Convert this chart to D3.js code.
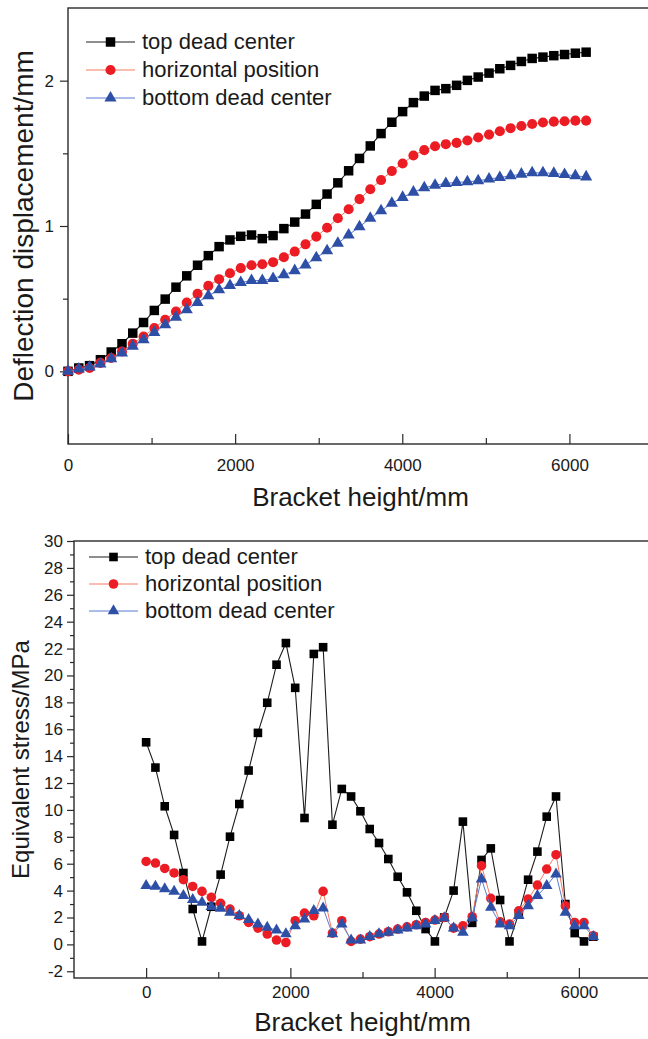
<!DOCTYPE html>
<html>
<head>
<meta charset="utf-8">
<script src="https://cdn.jsdelivr.net/npm/d3@7"></script>
<style>
  html, body { margin: 0; padding: 0; background: #fff; }
  svg { display: block; }
</style>
</head>
<body>
<svg id="fig" width="648" height="1039"></svg>
<script>
// Bracket heights (mm) at which both quantities were evaluated
const heights = [0, 129, 258, 388, 517, 646, 775, 904, 1033, 1163, 1292, 1421, 1550, 1679, 1808, 1938,
  2067, 2196, 2325, 2454, 2583, 2713, 2842, 2971, 3100, 3229, 3358, 3488, 3617, 3746, 3875, 4004,
  4133, 4263, 4392, 4521, 4650, 4779, 4908, 5038, 5167, 5296, 5425, 5554, 5683, 5813, 5942, 6071, 6200];

const seriesNames = ["top dead center", "horizontal position", "bottom dead center"];

// Deflection displacement (mm)
const deflTop = [0.0, 0.023, 0.039, 0.08, 0.133, 0.19, 0.263, 0.336, 0.419, 0.497, 0.579, 0.657, 0.73, 0.796,
  0.858, 0.904, 0.929, 0.938, 0.913, 0.934, 0.982, 1.027, 1.082, 1.149, 1.22, 1.297, 1.38, 1.465,
  1.551, 1.636, 1.714, 1.787, 1.849, 1.894, 1.933, 1.945, 1.968, 2.002, 2.025, 2.052, 2.082, 2.105,
  2.132, 2.153, 2.162, 2.172, 2.18, 2.189, 2.196];
const deflHor = [0.0, 0.012, 0.023, 0.058, 0.092, 0.137, 0.19, 0.24, 0.298, 0.355, 0.412, 0.474, 0.533, 0.588,
  0.634, 0.675, 0.71, 0.73, 0.737, 0.751, 0.785, 0.824, 0.874, 0.927, 0.988, 1.053, 1.115, 1.185,
  1.253, 1.316, 1.378, 1.43, 1.485, 1.522, 1.549, 1.563, 1.572, 1.588, 1.609, 1.629, 1.652, 1.673,
  1.688, 1.702, 1.712, 1.718, 1.721, 1.725, 1.725];
const deflBot = [0.0, 0.016, 0.03, 0.051, 0.087, 0.126, 0.172, 0.218, 0.268, 0.321, 0.373, 0.423, 0.474, 0.52,
  0.561, 0.59, 0.611, 0.625, 0.625, 0.638, 0.664, 0.693, 0.732, 0.782, 0.83, 0.881, 0.938, 0.995,
  1.053, 1.105, 1.156, 1.197, 1.233, 1.263, 1.281, 1.293, 1.3, 1.304, 1.311, 1.323, 1.334, 1.345,
  1.357, 1.366, 1.366, 1.362, 1.355, 1.345, 1.338];

// Equivalent stress (MPa)
const stressTop = [15.03, 13.15, 10.27, 8.14, 5.31, 2.63, 0.22, 2.8, 5.19, 8.01,
  10.44, 12.93, 15.73, 17.97, 20.8, 22.41, 19.08, 9.4, 21.6, 22.1,
  8.9, 11.56, 11.0, 9.9, 8.58, 7.54, 6.35, 5.03, 3.87, 2.5,
  1.14, 0.22, 2.0, 4.0, 9.13, 1.6, 6.28, 7.14, 3.3, 0.22,
  2.3, 4.81, 6.9, 9.5, 11.0, 3.0, 0.84, 0.22, 0.57];
const stressHor = [6.17, 6.05, 5.65, 5.31, 4.81, 4.31, 3.94, 3.5, 3.05, 2.63,
  2.13, 1.63, 1.21, 0.77, 0.32, 0.14, 1.76, 2.33, 2.13, 3.94,
  0.84, 1.76, 0.22, 0.39, 0.57, 0.77, 0.94, 1.14, 1.31, 1.46,
  1.63, 1.81, 2.0, 1.21, 1.38, 2.06, 5.85, 3.42, 1.68, 1.51,
  2.5, 3.37, 4.41, 5.6, 6.67, 2.87, 1.63, 1.63, 0.64];
const stressBot = [4.36, 4.31, 4.12, 3.94, 3.62, 3.32, 3.12, 2.8, 2.67, 2.38,
  2.13, 1.83, 1.51, 1.26, 1.06, 0.77, 1.38, 1.88, 2.5, 2.7,
  0.77, 1.51, 0.32, 0.32, 0.57, 0.77, 0.89, 1.06, 1.21, 1.38,
  1.51, 1.76, 1.96, 1.21, 0.89, 1.96, 4.86, 2.75, 1.51, 1.38,
  2.13, 2.87, 3.62, 4.36, 5.23, 2.38, 1.38, 1.38, 0.57];

// Tick values
const deflXTicks = [0, 2000, 4000, 6000];
const deflXMinor = [1000, 3000, 5000];
const deflYTicks = [0, 1, 2];
const deflYMinor = [0.5, 1.5];
const stressXTicks = [0, 2000, 4000, 6000];
const stressXMinor = [1000, 3000, 5000];
const stressYTicks = [-2, 0, 2, 4, 6, 8, 10, 12, 14, 16, 18, 20, 22, 24, 26, 28, 30];
const stressYMinor = [-1, 1, 3, 5, 7, 9, 11, 13, 15, 17, 19, 21, 23, 25, 27, 29];

const FONT = '"Liberation Sans", Arial, Helvetica, sans-serif';
const AXIS = "#2a2a2a";
// plain hyphen-minus for negative tick labels
const plainNum = d => String(d);

const markerStyles = [
  { shape: d3.symbolSquare,   fill: "#000000", line: "#1e1e1e", lw: 1.1 },
  { shape: d3.symbolCircle,   fill: "#ec1c24", line: "#f47a5e", lw: 1.0 },
  { shape: d3.symbolTriangle, fill: "#2d4fa6", line: "#5a7ad4", lw: 1.0 }
];

const svg = d3.select("#fig");
svg.append("rect").attr("width", 648).attr("height", 1039).attr("fill", "#fff");

function styleAxis(sel, fontSize) {
  sel.attr("font-family", FONT).attr("font-size", fontSize);
  sel.select(".domain").remove();
  sel.selectAll(".tick line").attr("stroke", AXIS).attr("stroke-width", 1.2);
  sel.selectAll(".tick text").attr("fill", "#1a1a1a");
}

function panel(o) {
  const g = svg.append("g");
  const x = d3.scaleLinear().domain(o.xDomain).range([o.l, o.r]);
  const y = d3.scaleLinear().domain(o.yDomain).range([o.b, o.t]);

  // x axis: ticks point into the plot
  const xa = g.append("g").attr("transform", `translate(0,${o.b})`)
    .call(d3.axisBottom(x).tickValues(o.xTicks).tickSize(-o.xMajor)
      .tickPadding(o.xPad).tickFormat(plainNum));
  styleAxis(xa, 17);
  const xm = g.append("g").attr("transform", `translate(0,${o.b})`)
    .call(d3.axisBottom(x).tickValues(o.xMinor).tickSize(-o.xMinorLen).tickFormat(""));
  styleAxis(xm, 17);

  // y axis: ticks point outward
  const ya = g.append("g").attr("transform", `translate(${o.l},0)`)
    .call(d3.axisLeft(y).tickValues(o.yTicks).tickSize(o.yMajor)
      .tickPadding(o.yPad).tickFormat(plainNum));
  styleAxis(ya, 17);
  const ym = g.append("g").attr("transform", `translate(${o.l},0)`)
    .call(d3.axisLeft(y).tickValues(o.yMinor).tickSize(o.yMinorLen).tickFormat(""));
  styleAxis(ym, 17);

  // frame
  g.append("rect")
    .attr("x", o.l).attr("y", o.t)
    .attr("width", o.r - o.l).attr("height", o.b - o.t)
    .attr("fill", "none").attr("stroke", AXIS).attr("stroke-width", 1.4);

  // series: connecting lines then markers
  o.series.forEach((vals, i) => {
    const st = markerStyles[i];
    const pts = heights.map((h, j) => [h, vals[j]]);
    g.append("path")
      .attr("d", d3.line().x(d => x(d[0])).y(d => y(d[1]))(pts))
      .attr("fill", "none").attr("stroke", st.line).attr("stroke-width", st.lw);
    g.append("g").selectAll("path").data(pts).join("path")
      .attr("transform", d => `translate(${x(d[0])},${y(d[1])})`)
      .attr("d", d3.symbol().type(st.shape).size(o.sizes[i]))
      .attr("fill", st.fill);
  });

  // legend
  seriesNames.forEach((name, i) => {
    const st = markerStyles[i];
    const ry = o.legY + i * o.legStep;
    g.append("line")
      .attr("x1", o.legX0).attr("x2", o.legX1).attr("y1", ry).attr("y2", ry)
      .attr("stroke", st.line).attr("stroke-width", st.lw);
    g.append("path")
      .attr("transform", `translate(${(o.legX0 + o.legX1) / 2},${ry})`)
      .attr("d", d3.symbol().type(st.shape).size(o.sizes[i]))
      .attr("fill", st.fill);
    g.append("text")
      .attr("x", o.legText).attr("y", ry).attr("dy", "0.32em")
      .attr("font-family", FONT).attr("font-size", 22).attr("fill", "#1a1a1a")
      .text(name);
  });

  // axis titles
  g.append("text")
    .attr("x", (o.l + o.r) / 2).attr("y", o.xTitleY)
    .attr("text-anchor", "middle")
    .attr("font-family", FONT).attr("font-size", 26).attr("fill", "#1a1a1a")
    .text(o.xTitle);
  g.append("text")
    .attr("transform", `translate(${o.yTitleX},${(o.t + o.b) / 2}) rotate(-90)`)
    .attr("text-anchor", "middle").attr("dy", "0.35em")
    .attr("font-family", FONT).attr("font-size", o.yTitleSize).attr("fill", "#1a1a1a")
    .text(o.yTitle);
}

// Deflection displacement vs bracket height
panel({
  l: 68, r: 653, t: 8, b: 444,
  xDomain: [0, 7000], yDomain: [-0.5, 2.5],
  xTicks: deflXTicks, xMinor: deflXMinor, yTicks: deflYTicks, yMinor: deflYMinor,
  xMajor: 10, xMinorLen: 6, xPad: 15, yMajor: 8, yMinorLen: 5, yPad: 6,
  series: [deflTop, deflHor, deflBot],
  sizes: [90, 80, 64],
  legX0: 86, legX1: 135, legText: 142, legY: 42, legStep: 28,
  xTitle: "Bracket height/mm", xTitleY: 506,
  yTitle: "Deflection displacement/mm", yTitleX: 23, yTitleSize: 28
});

// Equivalent stress vs bracket height
panel({
  l: 74, r: 651, t: 541, b: 978,
  xDomain: [-1000, 7000], yDomain: [-2.5, 30],
  xTicks: stressXTicks, xMinor: stressXMinor, yTicks: stressYTicks, yMinor: stressYMinor,
  xMajor: 10, xMinorLen: 6, xPad: 8, yMajor: 7, yMinorLen: 4, yPad: 4,
  series: [stressTop, stressHor, stressBot],
  sizes: [74, 72, 58],
  legX0: 89, legX1: 138, legText: 145, legY: 557, legStep: 27,
  xTitle: "Bracket height/mm", xTitleY: 1031,
  yTitle: "Equivalent stress/MPa", yTitleX: 21, yTitleSize: 24
});
</script>
</body>
</html>
